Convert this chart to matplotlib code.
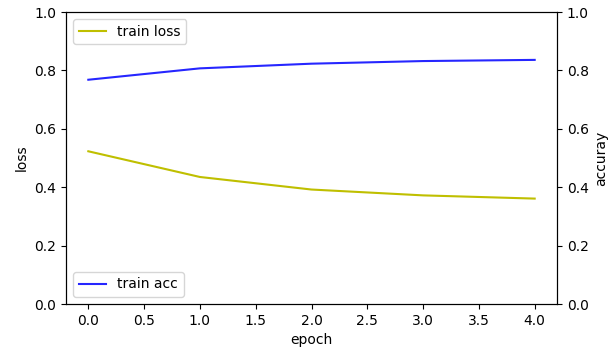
import matplotlib
matplotlib.use('Agg')
import matplotlib.pyplot as plt

epochs = [0, 1, 2, 3, 4]
train_loss = [0.523, 0.435, 0.392, 0.372, 0.361]
train_acc = [0.768, 0.807, 0.823, 0.832, 0.836]

fig, ax1 = plt.subplots(figsize=(6.08, 3.48), dpi=100)
fig.subplots_adjust(left=66 / 608, right=557 / 608, top=1 - 12 / 348, bottom=1 - 304 / 348)

ax1.plot(epochs, train_loss, 'y', label='train loss')
ax1.set_ylim(0, 1)
ax1.set_xlabel('epoch')
ax1.set_ylabel('loss')
ax1.legend(loc='upper left')

ax2 = ax1.twinx()
ax2.plot(epochs, train_acc, 'b', alpha=0.85, label='train acc')
ax2.set_ylim(0, 1)
ax2.set_ylabel('accuray')
ax2.legend(loc='lower left')

fig.savefig('out.png')
